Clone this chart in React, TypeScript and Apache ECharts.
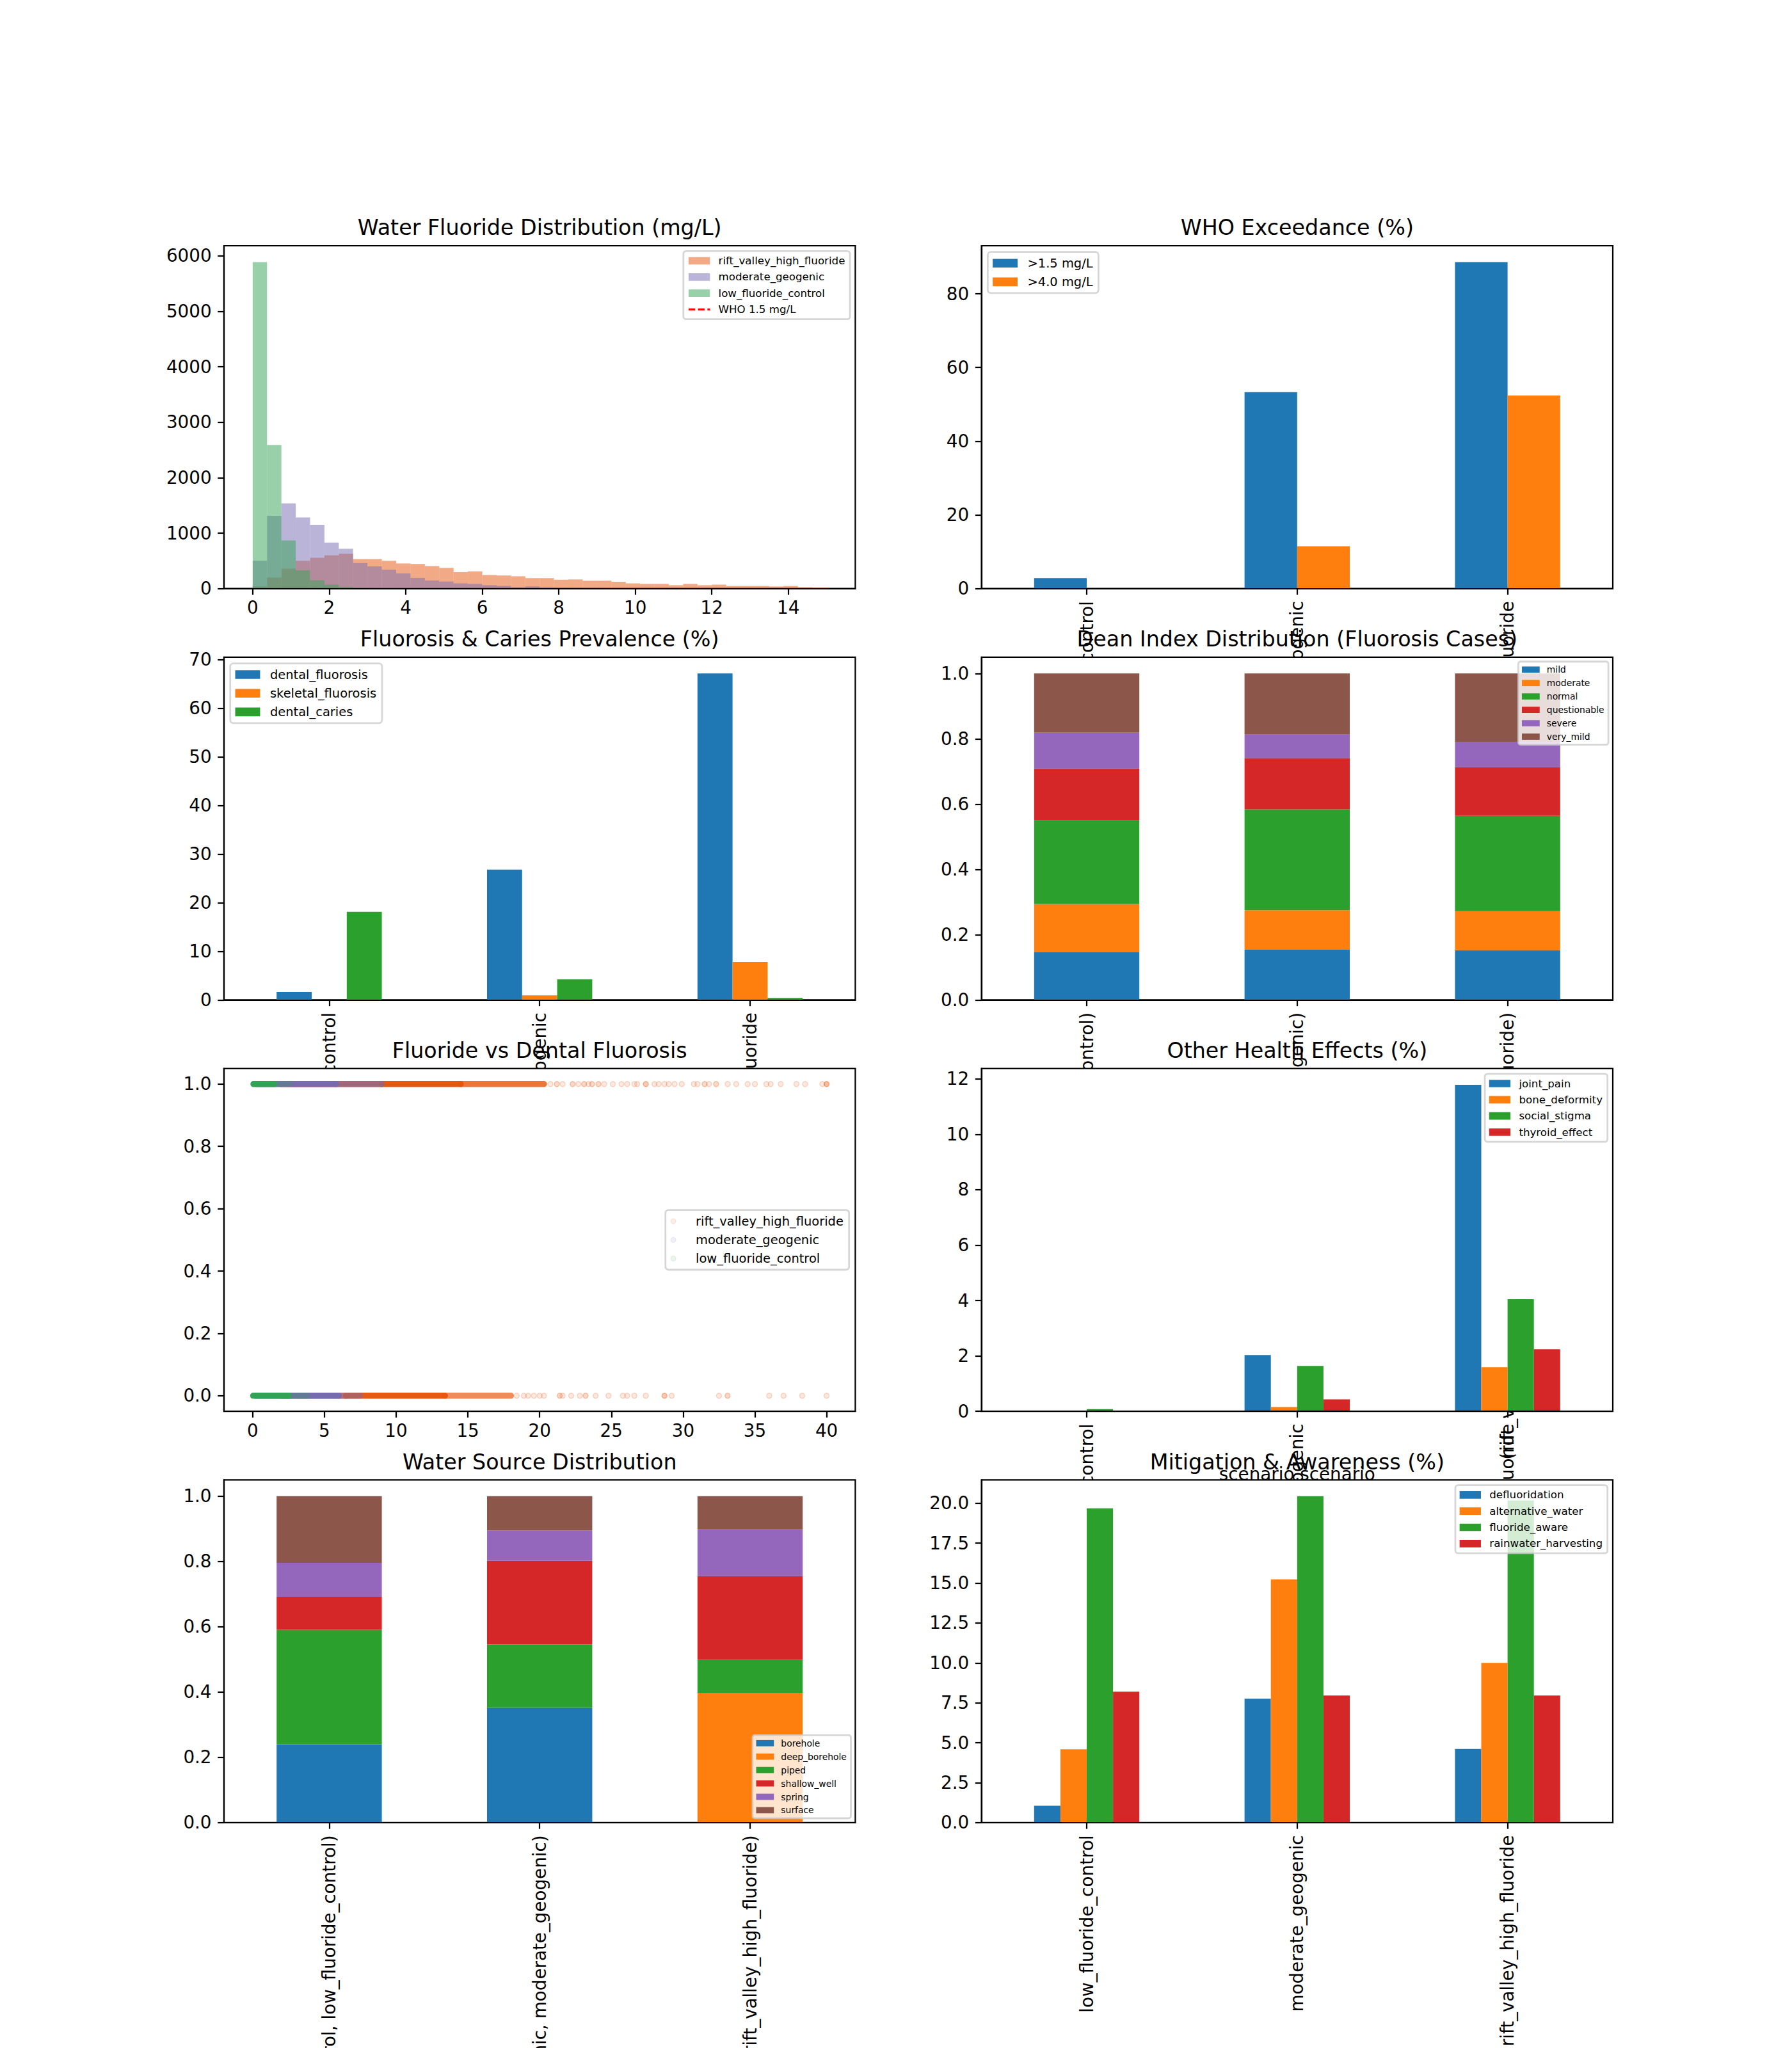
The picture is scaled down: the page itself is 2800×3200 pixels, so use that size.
import React, { useEffect, useRef } from 'react';
import * as echarts from 'echarts';

/* ---------------- categories ---------------- */
const SCENARIOS = ['low_fluoride_control', 'moderate_geogenic', 'rift_valley_high_fluoride'];
const SCENARIO_PAIRS = SCENARIOS.map((s) => `(${s}, ${s})`);

/* ---------------- 1. water fluoride histogram (40 bins over 0–15 mg/L) ---------------- */
const HIST_BIN_WIDTH = 0.375;
const HIST_RIFT = [38, 198, 359, 500, 557, 600, 628, 533, 533, 500, 453, 444, 406, 373, 297, 311, 245, 236, 222, 189,
  189, 160, 165, 142, 142, 123, 94, 85, 85, 61, 85, 61, 71, 47, 47, 47, 38, 47, 24, 19];
const HIST_MODERATE = [500, 1312, 1538, 1284, 1151, 831, 717, 460, 400, 340, 274, 193, 146, 127, 94, 85, 61, 47, 24, 38,
  20, 15, 12, 10, 8, 6, 5, 4, 3, 3, 2, 2, 1, 1, 1, 1, 0, 0, 0, 0];
const HIST_LOW = [5890, 2591, 868, 330, 150, 70, 30, 15, 8, 5, 3, 2, 1, 1, 0, 0, 0, 0, 0, 0,
  0, 0, 0, 0, 0, 0, 0, 0, 0, 0, 0, 0, 0, 0, 0, 0, 0, 0, 0, 0];
const WHO_LIMIT = 1.5;
const WHO_LABEL = 'WHO 1.5 mg/L';
const HIST_X_TICKS = [0, 2, 4, 6, 8, 10, 12, 14];
const HIST_Y_TICKS = [0, 1000, 2000, 3000, 4000, 5000, 6000];

/* ---------------- 2. WHO exceedance (%) ---------------- */
const EXCEED_NAMES = ['>1.5 mg/L', '>4.0 mg/L'];
const EXCEED_OVER_1_5 = [2.84, 53.3, 88.6];
const EXCEED_OVER_4_0 = [0, 11.5, 52.4];
const EXCEED_TICKS = [0, 20, 40, 60, 80];

/* ---------------- 3. fluorosis & caries prevalence (%) ---------------- */
const PREV_NAMES = ['dental_fluorosis', 'skeletal_fluorosis', 'dental_caries'];
const PREV_DENTAL = [1.65, 26.8, 67.1];
const PREV_SKELETAL = [0, 0.94, 7.82];
const PREV_CARIES = [18.1, 4.24, 0.41];
const PREV_TICKS = [0, 10, 20, 30, 40, 50, 60, 70];

/* ---------------- 4. Dean index shares ---------------- */
const DEAN_NAMES = ['mild', 'moderate', 'normal', 'questionable', 'severe', 'very_mild'];
const DEAN_MILD = [0.146, 0.154, 0.1525];
const DEAN_MODERATE = [0.148, 0.121, 0.1195];
const DEAN_NORMAL = [0.256, 0.309, 0.292];
const DEAN_QUESTIONABLE = [0.159, 0.157, 0.149];
const DEAN_SEVERE = [0.110, 0.072, 0.078];
const DEAN_VERY_MILD = [0.181, 0.187, 0.209];
const SHARE_TICKS = [0, 0.2, 0.4, 0.6, 0.8, 1.0];

/* ---------------- 5. fluoride vs dental fluorosis ----------------
   runs: [from mg/L, to mg/L, cases per marker width]; isolated: [mg/L, cases] */
const RIFT_YES_RUNS = [[2.0, 9.0, 15], [9.0, 14.5, 25], [14.5, 20.3, 10]];
const RIFT_NO_RUNS = [[2.0, 6.5, 10], [6.5, 13.4, 22], [13.4, 18.0, 7]];
const RIFT_YES_POINTS = [[20.75, 1], [21.2, 2], [21.6, 1], [22.3, 2], [22.7, 1], [23.1, 2], [23.4, 1], [23.65, 2], [24.1, 2],
  [24.5, 1], [25.1, 1], [25.7, 1], [26.1, 1], [26.6, 1], [26.8, 1], [27.4, 3], [28.0, 1], [28.3, 1], [28.7, 1], [29.0, 1],
  [29.4, 1], [29.9, 1], [30.75, 1], [31.0, 1], [31.5, 2], [31.8, 1], [32.3, 2], [33.1, 1], [33.7, 1], [34.5, 1], [35.0, 1],
  [35.8, 1], [36.1, 1], [36.8, 1], [37.9, 1], [38.5, 1], [39.7, 1], [40.0, 4]];
const RIFT_NO_POINTS = [[18.4, 1], [18.9, 1], [19.2, 1], [19.6, 1], [20.0, 1], [20.3, 1], [21.4, 2], [21.6, 1], [22.2, 1],
  [22.8, 1], [23.2, 2], [23.9, 1], [24.8, 1], [25.8, 1], [26.1, 1], [26.6, 1], [27.4, 1], [28.7, 3], [29.2, 1], [32.5, 1],
  [33.1, 2], [36.0, 1], [37.0, 1], [38.3, 1], [40.0, 1]];
const MODERATE_YES_RUNS = [[0.3, 5.8, 25], [5.8, 9.0, 6]];
const MODERATE_NO_RUNS = [[0.2, 6.0, 25], [6.0, 7.5, 4]];
const LOW_YES_RUNS = [[0.05, 1.5, 25], [1.5, 2.6, 2]];
const LOW_NO_RUNS = [[0.03, 2.5, 25], [2.5, 3.8, 2]];
const SCATTER_X_TICKS = [0, 5, 10, 15, 20, 25, 30, 35, 40];

/* ---------------- 6. other health effects (%) ---------------- */
const HEALTH_NAMES = ['joint_pain', 'bone_deformity', 'social_stigma', 'thyroid_effect'];
const HEALTH_JOINT = [0, 2.03, 11.79];
const HEALTH_BONE = [0, 0.155, 1.59];
const HEALTH_STIGMA = [0.08, 1.64, 4.05];
const HEALTH_THYROID = [0, 0.43, 2.24];
const HEALTH_TICKS = [0, 2, 4, 6, 8, 10, 12];

/* ---------------- 7. water source shares ---------------- */
const SOURCE_NAMES = ['borehole', 'deep_borehole', 'piped', 'shallow_well', 'spring', 'surface'];
const SOURCE_BOREHOLE = [0.240, 0.352, 0];
const SOURCE_DEEP = [0, 0, 0.398];
const SOURCE_PIPED = [0.351, 0.194, 0.101];
const SOURCE_SHALLOW = [0.101, 0.256, 0.256];
const SOURCE_SPRING = [0.104, 0.093, 0.143];
const SOURCE_SURFACE = [0.204, 0.105, 0.102];

/* ---------------- 8. mitigation & awareness (%) ---------------- */
const MITIGATION_NAMES = ['defluoridation', 'alternative_water', 'fluoride_aware', 'rainwater_harvesting'];
const MIT_DEFLUOR = [1.06, 7.76, 4.62];
const MIT_ALTERNATIVE = [4.6, 15.23, 10.0];
const MIT_AWARE = [19.68, 20.44, 20.17];
const MIT_RAINWATER = [8.2, 7.96, 7.96];
const MIT_TICKS = [0, 2.5, 5, 7.5, 10, 12.5, 15, 17.5, 20];

const TITLES = [
  'Water Fluoride Distribution (mg/L)',
  'WHO Exceedance (%)',
  'Fluorosis & Caries Prevalence (%)',
  'Dean Index Distribution (Fluorosis Cases)',
  'Fluoride vs Dental Fluorosis',
  'Other Health Effects (%)',
  'Water Source Distribution',
  'Mitigation & Awareness (%)',
];

/* ---------------- styling & layout ---------------- */
const FONT = '"DejaVu Sans", "Liberation Sans", sans-serif';
const PT = 200 / 72;
const TICK_FS = 10 * PT;
const TITLE_FS = 12 * PT;
const LW = 0.8 * PT;
const TICK_LEN = 3.5 * PT;
const LABEL_GAP = 7 * PT;
const FIG_W = 2800;
const FIG_H = 3200;
const COL_X = [350, 1533.6];
const ROW_Y = [384, 1026.8, 1669.5, 2312.3];
const AX_W = 986.4;
const AX_H = 535.65;
const TAB10 = ['#1f77b4', '#ff7f0e', '#2ca02c', '#d62728', '#9467bd', '#8c564b'];
const RGB_RIFT = [230, 85, 13];
const RGB_MODERATE = [117, 107, 177];
const RGB_LOW = [49, 163, 84];
const MARKER_ALPHA = 0.15;
const MARKER_SIZE = 8;

const rgba = (c: number[], a: number) => `rgba(${c[0]},${c[1]},${c[2]},${a})`;
const caseAlpha = (n: number) => 1 - Math.pow(1 - MARKER_ALPHA, n);
const rowOf = (idx: number) => Math.floor(idx / 2);
const colOf = (idx: number) => idx % 2;
const zOf = (idx: number) => {
  const g = 10 + rowOf(idx) * 10;
  return { grid: g, series: g + 2, axis: g + 3, legend: g + 5 };
};

function textWidth(s: string, fs: number) {
  const ctx = document.createElement('canvas').getContext('2d') as CanvasRenderingContext2D;
  ctx.font = `${fs}px "DejaVu Sans"`;
  return ctx.measureText(s).width;
}

const tickText = { color: '#000', fontSize: TICK_FS, fontFamily: FONT, lineHeight: TICK_FS };
const axisLine = { show: true, onZero: false, lineStyle: { color: '#000', width: LW } };

function gridFor(idx: number) {
  return {
    left: COL_X[colOf(idx)], top: ROW_Y[rowOf(idx)], width: AX_W, height: AX_H,
    containLabel: false, outerBoundsMode: 'none',
    show: true, backgroundColor: '#ffffff', borderColor: '#000', borderWidth: LW, z: zOf(idx).grid,
  };
}

function valueX(idx: number, min: number, max: number, ticks: number[]) {
  return {
    type: 'value', gridIndex: idx, min, max, z: zOf(idx).axis,
    axisLine,
    axisTick: { show: true, length: TICK_LEN, lineStyle: { color: '#000', width: LW }, customValues: ticks },
    axisLabel: { ...tickText, margin: LABEL_GAP - 3, customValues: ticks, formatter: (v: number) => String(v) },
    splitLine: { show: false },
  };
}

function valueY(idx: number, min: number, max: number, ticks: number[], digits: number) {
  return {
    type: 'value', gridIndex: idx, min, max, z: zOf(idx).axis,
    axisLine,
    axisTick: { show: true, length: TICK_LEN, lineStyle: { color: '#000', width: LW }, customValues: ticks },
    axisLabel: {
      ...tickText, margin: LABEL_GAP, customValues: ticks,
      formatter: (v: number) => (digits ? v.toFixed(digits) : String(Math.round(v))),
    },
    splitLine: { show: false },
  };
}

// Category axis with rotated labels; the axis title sits below the longest label.
function categoryX(idx: number, cats: string[], name: string | null) {
  const longest = Math.max(...cats.map((c) => textWidth(c, TICK_FS)));
  const axis: any = {
    type: 'category', gridIndex: idx, data: cats, boundaryGap: true, z: zOf(idx).axis,
    axisLine,
    axisTick: { show: true, alignWithLabel: true, length: TICK_LEN, lineStyle: { color: '#000', width: LW } },
    axisLabel: { ...tickText, rotate: 90, interval: 0, margin: LABEL_GAP },
    splitLine: { show: false },
  };
  if (name) {
    axis.name = name;
    axis.nameLocation = 'middle';
    axis.nameGap = LABEL_GAP + longest + 4 * PT - 2;
    axis.nameTextStyle = { ...tickText };
  }
  return axis;
}

function legendFor(idx: number, data: any[], fs: number, h: 'left' | 'right', v: 'top' | 'bottom' | 'center', extra: any = {}) {
  const n = data.length;
  const pad = 0.4 * fs;
  const boxH = n * fs + (n - 1) * 0.5 * fs + 2 * pad;
  const off = 0.5 * fs;
  const col = colOf(idx);
  const row = rowOf(idx);
  const pos: any = {};
  if (h === 'left') pos.left = COL_X[col] + off;
  else pos.right = FIG_W - (COL_X[col] + AX_W - off);
  if (v === 'top') pos.top = ROW_Y[row] + off;
  else if (v === 'bottom') pos.bottom = FIG_H - (ROW_Y[row] + AX_H - off);
  else pos.top = ROW_Y[row] + AX_H / 2 - boxH / 2;
  return {
    orient: 'vertical', ...pos, z: zOf(idx).legend, selectedMode: false,
    data,
    itemWidth: 2 * fs, itemHeight: 0.7 * fs, itemGap: 0.5 * fs,
    padding: [pad, pad + 1, pad, pad],
    backgroundColor: 'rgba(255,255,255,0.8)',
    borderColor: 'rgba(204,204,204,0.8)', borderWidth: PT, borderRadius: 0.25 * fs,
    textStyle: { fontSize: fs, fontFamily: FONT, color: '#000', lineHeight: fs, padding: [0, 0, 0, 0.8 * fs - 5] },
    ...extra,
  };
}

function groupedBars(idx: number, names: string[], values: number[][]) {
  const w = `${50 / names.length}%`;
  return names.map((name, i) => ({
    type: 'bar', name, xAxisIndex: idx, yAxisIndex: idx, data: values[i],
    barWidth: w, barGap: '0%', itemStyle: { color: TAB10[i] }, z: zOf(idx).series,
    emphasis: { disabled: true }, silent: true,
  }));
}

function stackedBars(idx: number, names: string[], values: number[][]) {
  return names.map((name, i) => ({
    type: 'bar', name, stack: `stack${idx}`, xAxisIndex: idx, yAxisIndex: idx, data: values[i],
    barWidth: '50%', itemStyle: { color: TAB10[i] }, z: zOf(idx).series,
    emphasis: { disabled: true }, silent: true,
  }));
}

const maxOf = (rows: number[][]) => Math.max(...rows.flat());
const maxStack = (rows: number[][]) => Math.max(...rows[0].map((_, j) => rows.reduce((s, r) => s + r[j], 0)));

function buildOption() {
  const grids: any[] = [];
  const xAxes: any[] = [];
  const yAxes: any[] = [];
  const series: any[] = [];
  const legends: any[] = [];
  for (let i = 0; i < 8; i++) grids.push(gridFor(i));

  /* ---- panel 0: histogram ---- */
  const histSets = [
    { name: SCENARIOS[2], counts: HIST_RIFT, rgb: RGB_RIFT },
    { name: SCENARIOS[1], counts: HIST_MODERATE, rgb: RGB_MODERATE },
    { name: SCENARIOS[0], counts: HIST_LOW, rgb: RGB_LOW },
  ];
  const histMax = Math.max(...histSets.map((s) => Math.max(...s.counts))) * 1.05;
  xAxes.push(valueX(0, -0.75, 15.75, HIST_X_TICKS));
  yAxes.push(valueY(0, 0, histMax, HIST_Y_TICKS, 0));
  histSets.forEach((s) => {
    const fill = rgba(s.rgb, 0.5);
    series.push({
      type: 'custom', name: s.name, xAxisIndex: 0, yAxisIndex: 0, z: zOf(0).series, silent: true,
      itemStyle: { color: fill },
      data: s.counts.map((c, i) => [i * HIST_BIN_WIDTH, (i + 1) * HIST_BIN_WIDTH, c]),
      renderItem: (_p: any, api: any) => {
        const p0 = api.coord([api.value(0), 0]);
        const p1 = api.coord([api.value(1), api.value(2)]);
        return { type: 'rect', shape: { x: p0[0], y: p1[1], width: p1[0] - p0[0], height: p0[1] - p1[1] }, style: { fill } };
      },
    });
  });
  const whoStyle = { color: '#ff0000', width: PT, type: [3.7 * PT, 1.6 * PT] };
  series.push({
    type: 'line', name: WHO_LABEL, xAxisIndex: 0, yAxisIndex: 0, data: [], symbol: 'none', showSymbol: false,
    z: zOf(0).series + 1, lineStyle: whoStyle, itemStyle: { color: '#ff0000' },
    markLine: { silent: true, symbol: 'none', label: { show: false }, lineStyle: whoStyle, data: [{ xAxis: WHO_LIMIT }] },
  });
  const fsHist = 6 * PT;
  legends.push(legendFor(0, [
    ...histSets.map((s) => ({ name: s.name, icon: 'rect', itemStyle: { color: rgba(s.rgb, 0.5), borderWidth: 0 } })),
    { name: WHO_LABEL, itemStyle: { opacity: 0 }, lineStyle: { ...whoStyle } },
  ], fsHist, 'right', 'top'));

  /* ---- panel 1: WHO exceedance ---- */
  const exceed = [EXCEED_OVER_1_5, EXCEED_OVER_4_0];
  xAxes.push(categoryX(1, SCENARIOS, 'scenario'));
  yAxes.push(valueY(1, 0, maxOf(exceed) * 1.05, EXCEED_TICKS, 0));
  series.push(...groupedBars(1, EXCEED_NAMES, exceed));
  legends.push(legendFor(1, EXCEED_NAMES, 7 * PT, 'left', 'top', { icon: 'rect' }));

  /* ---- panel 2: prevalence ---- */
  const prev = [PREV_DENTAL, PREV_SKELETAL, PREV_CARIES];
  xAxes.push(categoryX(2, SCENARIOS, 'scenario'));
  yAxes.push(valueY(2, 0, maxOf(prev) * 1.05, PREV_TICKS, 0));
  series.push(...groupedBars(2, PREV_NAMES, prev));
  legends.push(legendFor(2, PREV_NAMES, 7 * PT, 'left', 'top', { icon: 'rect' }));

  /* ---- panel 3: Dean index ---- */
  const dean = [DEAN_MILD, DEAN_MODERATE, DEAN_NORMAL, DEAN_QUESTIONABLE, DEAN_SEVERE, DEAN_VERY_MILD];
  xAxes.push(categoryX(3, SCENARIO_PAIRS, 'scenario,scenario'));
  yAxes.push(valueY(3, 0, maxStack(dean) * 1.05, SHARE_TICKS, 1));
  series.push(...stackedBars(3, DEAN_NAMES, dean));
  legends.push(legendFor(3, DEAN_NAMES, 5 * PT, 'right', 'top', { icon: 'rect' }));

  /* ---- panel 4: scatter ---- */
  xAxes.push(valueX(4, -2, 42, SCATTER_X_TICKS));
  yAxes.push(valueY(4, -0.05, 1.05, SHARE_TICKS, 1));
  const scatterSets = [
    { name: SCENARIOS[2], rgb: RGB_RIFT, yesRuns: RIFT_YES_RUNS, noRuns: RIFT_NO_RUNS, yesPts: RIFT_YES_POINTS, noPts: RIFT_NO_POINTS },
    { name: SCENARIOS[1], rgb: RGB_MODERATE, yesRuns: MODERATE_YES_RUNS, noRuns: MODERATE_NO_RUNS, yesPts: [] as number[][], noPts: [] as number[][] },
    { name: SCENARIOS[0], rgb: RGB_LOW, yesRuns: LOW_YES_RUNS, noRuns: LOW_NO_RUNS, yesPts: [] as number[][], noPts: [] as number[][] },
  ];
  const r = MARKER_SIZE / 2 + 0.75;
  scatterSets.forEach((s, k) => {
    const baseZ = zOf(4).series + k * 0.1;
    series.push({
      type: 'custom', name: `${s.name} runs`, xAxisIndex: 4, yAxisIndex: 4, z: baseZ, silent: true,
      data: [...s.yesRuns.map((q) => [q[0], q[1], 1, q[2]]), ...s.noRuns.map((q) => [q[0], q[1], 0, q[2]])],
      renderItem: (_p: any, api: any) => {
        const a = api.coord([api.value(0), api.value(2)]);
        const b = api.coord([api.value(1), api.value(2)]);
        return {
          type: 'rect',
          shape: { x: a[0] - r, y: a[1] - r, width: b[0] - a[0] + 2 * r, height: 2 * r, r },
          style: { fill: rgba(s.rgb, caseAlpha(api.value(3))) },
        };
      },
    });
    const pts = [...s.yesPts.map((p) => [p[0], 1, p[1]]), ...s.noPts.map((p) => [p[0], 0, p[1]])];
    series.push({
      type: 'scatter', name: s.name, xAxisIndex: 4, yAxisIndex: 4, z: baseZ + 0.05, silent: true,
      symbol: 'circle', symbolSize: MARKER_SIZE,
      itemStyle: { color: rgba(s.rgb, MARKER_ALPHA), borderColor: rgba(s.rgb, MARKER_ALPHA), borderWidth: 1.5 },
      data: pts.map((p) => ({
        value: [p[0], p[1]],
        itemStyle: { color: rgba(s.rgb, caseAlpha(p[2])), borderColor: rgba(s.rgb, caseAlpha(p[2] + 1)), borderWidth: 1.5 },
      })),
    });
  });
  const fsSc = 7 * PT;
  legends.push(legendFor(4, scatterSets.map((s) => ({
    name: s.name, icon: 'circle',
    itemStyle: { color: rgba(s.rgb, 0.1), borderColor: rgba(s.rgb, 0.15), borderWidth: 1 },
  })), fsSc, 'right', 'center', { itemHeight: MARKER_SIZE }));

  /* ---- panel 5: other health effects ---- */
  const health = [HEALTH_JOINT, HEALTH_BONE, HEALTH_STIGMA, HEALTH_THYROID];
  xAxes.push(categoryX(5, SCENARIOS, 'scenario'));
  yAxes.push(valueY(5, 0, maxOf(health) * 1.05, HEALTH_TICKS, 0));
  series.push(...groupedBars(5, HEALTH_NAMES, health));
  legends.push(legendFor(5, HEALTH_NAMES, 6 * PT, 'right', 'top', { icon: 'rect' }));

  /* ---- panel 6: water source (axis title falls below the page) ---- */
  const source = [SOURCE_BOREHOLE, SOURCE_DEEP, SOURCE_PIPED, SOURCE_SHALLOW, SOURCE_SPRING, SOURCE_SURFACE];
  xAxes.push(categoryX(6, SCENARIO_PAIRS, null));
  yAxes.push(valueY(6, 0, maxStack(source) * 1.05, SHARE_TICKS, 1));
  series.push(...stackedBars(6, SOURCE_NAMES, source));
  legends.push(legendFor(6, SOURCE_NAMES, 5 * PT, 'right', 'bottom', { icon: 'rect' }));

  /* ---- panel 7: mitigation (axis title falls below the page) ---- */
  const mit = [MIT_DEFLUOR, MIT_ALTERNATIVE, MIT_AWARE, MIT_RAINWATER];
  xAxes.push(categoryX(7, SCENARIOS, null));
  yAxes.push(valueY(7, 0, maxOf(mit) * 1.05, MIT_TICKS, 1));
  series.push(...groupedBars(7, MITIGATION_NAMES, mit));
  legends.push(legendFor(7, MITIGATION_NAMES, 6 * PT, 'right', 'top', { icon: 'rect' }));

  /* ---- titles ---- */
  const titleEls = TITLES.map((t, i) => ({
    type: 'text', z: 100,
    x: COL_X[colOf(i)] + AX_W / 2,
    y: ROW_Y[rowOf(i)] - 6 * PT - 0.346 * TITLE_FS,
    style: {
      text: t, fill: '#000', font: `${TITLE_FS}px ${FONT}`,
      align: 'center', verticalAlign: 'middle', textAlign: 'center', textVerticalAlign: 'middle',
    },
  }));

  return {
    animation: false,
    backgroundColor: '#ffffff',
    textStyle: { fontFamily: FONT },
    grid: grids,
    xAxis: xAxes,
    yAxis: yAxes,
    series,
    legend: legends,
    graphic: { elements: titleEls },
  };
}

export default function App() {
  const ref = useRef<HTMLDivElement>(null);
  useEffect(() => {
    document.body.style.margin = '0';
    if (!ref.current) return;
    const chart = echarts.init(ref.current, undefined, { renderer: 'svg', width: FIG_W, height: FIG_H });
    chart.setOption(buildOption() as any);
    return () => chart.dispose();
  }, []);
  return (
    <div
      ref={ref}
      style={{ position: 'absolute', left: 0, top: 0, width: FIG_W, height: FIG_H, background: '#fff' }}
    />
  );
}
